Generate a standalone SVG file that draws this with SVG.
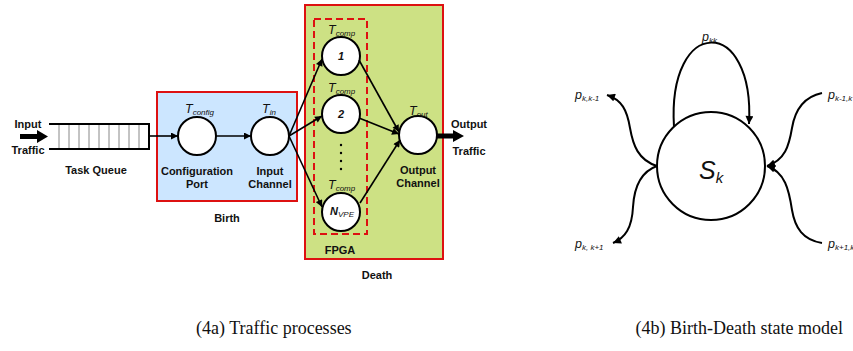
<svg xmlns="http://www.w3.org/2000/svg" width="853" height="351" viewBox="0 0 853 351">
<style>
.lbl{font-family:"Liberation Sans",Arial,sans-serif;font-size:11px;font-weight:bold;fill:#111;text-anchor:middle}
.var{font-family:"Liberation Sans",Arial,sans-serif;font-style:italic;font-size:12.5px;fill:#111}
.num{font-family:"Liberation Sans",Arial,sans-serif;font-style:italic;font-weight:bold;font-size:11px;fill:#111}
.sub{font-size:8px;font-weight:normal}
.pl{font-family:"Liberation Sans",Arial,sans-serif;font-style:italic;font-size:12.5px;fill:#111}
.big{font-family:"Liberation Sans",Arial,sans-serif;font-style:italic;font-size:25px;fill:#111}
.bigsub{font-size:15px}
.cap{font-family:"Liberation Serif","Times New Roman",serif;font-size:18px;fill:#111}
.node{fill:#fff;stroke:#000;stroke-width:2}
.edge{fill:none;stroke:#000;stroke-width:1.6}
.edge2{fill:none;stroke:#000;stroke-width:2}
.cell{stroke:#888;stroke-width:1}
</style>
<defs>
<marker id="ah" viewBox="0 0 10 10" refX="10" refY="5" markerWidth="8" markerHeight="7" markerUnits="userSpaceOnUse" orient="auto">
<path d="M0,0 L10,5 L0,10 z" fill="#000"/>
</marker>
<marker id="ah2" viewBox="0 0 10 10" refX="10" refY="5" markerWidth="9" markerHeight="8" markerUnits="userSpaceOnUse" orient="auto">
<path d="M0,0 L10,5 L0,10 z" fill="#000"/>
</marker>
</defs>
<rect width="853" height="351" fill="#fff"/>

<g id="birth-box">
<rect x="157" y="92" width="140" height="109" fill="#cce6ff" stroke="#dd1111" stroke-width="2"/>
<text class="lbl" x="227" y="222">Birth</text>
</g>
<g id="death-box">
<rect x="305" y="5" width="138" height="254" fill="#cde184" stroke="#dd1111" stroke-width="2"/>
<text class="lbl" x="377" y="279">Death</text>
</g>
<g id="fpga">
<rect x="314" y="19" width="53" height="215" fill="none" stroke="#dd1111" stroke-width="2" stroke-dasharray="7,4"/>
<text class="lbl" x="340" y="254">FPGA</text>
</g>

<g id="task-queue">
<line x1="49" y1="124" x2="150" y2="124" stroke="#000" stroke-width="2"/>
<line x1="49" y1="149" x2="150" y2="149" stroke="#000" stroke-width="2"/>
<line x1="149" y1="123" x2="149" y2="150" stroke="#000" stroke-width="2"/>
<g class="cell">
<line x1="59" y1="125" x2="59" y2="148"/><line x1="69" y1="125" x2="69" y2="148"/><line x1="79" y1="125" x2="79" y2="148"/>
<line x1="89" y1="125" x2="89" y2="148"/><line x1="99" y1="125" x2="99" y2="148"/><line x1="109" y1="125" x2="109" y2="148"/>
<line x1="119" y1="125" x2="119" y2="148"/><line x1="129" y1="125" x2="129" y2="148"/><line x1="139" y1="125" x2="139" y2="148"/>
</g>
<text class="lbl" x="96" y="174">Task Queue</text>
</g>

<g id="input-traffic">
<polygon points="20,134 37,134 37,130 48,136.5 37,143 37,139 20,139" fill="#000"/>
<text class="lbl" x="28" y="128">Input</text>
<text class="lbl" x="28" y="154">Traffic</text>
</g>

<g id="config-port">
<circle class="node" cx="197" cy="136" r="19"/>
<text class="var" x="185" y="113">T<tspan class="sub" dy="2">config</tspan></text>
<text class="lbl" x="197" y="175">Configuration</text>
<text class="lbl" x="197" y="188">Port</text>
</g>
<g id="input-channel">
<circle class="node" cx="270" cy="136" r="19"/>
<text class="var" x="262" y="113">T<tspan class="sub" dy="2">in</tspan></text>
<text class="lbl" x="270" y="175">Input</text>
<text class="lbl" x="270" y="188">Channel</text>
</g>

<g id="comp-1">
<circle class="node" cx="341" cy="56" r="19"/>
<text class="var" x="328" y="34">T<tspan class="sub" dy="2">comp</tspan></text>
<text class="num" x="341" y="60" text-anchor="middle">1</text>
</g>
<g id="comp-2">
<circle class="node" cx="341" cy="114" r="19"/>
<text class="var" x="328" y="92">T<tspan class="sub" dy="2">comp</tspan></text>
<text class="num" x="341" y="118" text-anchor="middle">2</text>
</g>
<g id="dots" fill="#000">
<circle cx="341" cy="145" r="1.2"/><circle cx="341" cy="153" r="1.2"/><circle cx="341" cy="161" r="1.2"/><circle cx="341" cy="169" r="1.2"/>
</g>
<g id="comp-n">
<circle class="node" cx="341" cy="212" r="19"/>
<text class="var" x="328" y="189">T<tspan class="sub" dy="2">comp</tspan></text>
<text class="num" x="330" y="215">N<tspan class="sub" dy="2">VPE</tspan></text>
</g>

<g id="output-channel">
<circle class="node" cx="418" cy="135" r="19"/>
<text class="var" x="409" y="115">T<tspan class="sub" dy="2">out</tspan></text>
<text class="lbl" x="418" y="174">Output</text>
<text class="lbl" x="418" y="187">Channel</text>
</g>

<g id="output-traffic">
<polygon points="437,133.5 453,133.5 453,130 464,136 453,142 453,138.5 437,138.5" fill="#000"/>
<text class="lbl" x="469" y="128">Output</text>
<text class="lbl" x="469" y="155">Traffic</text>
</g>

<g id="connectors-a" class="edge">
<line x1="150" y1="136" x2="178" y2="136" marker-end="url(#ah)"/>
<line x1="216" y1="136" x2="251" y2="136" marker-end="url(#ah)"/>
<line x1="289" y1="136" x2="322" y2="59" marker-end="url(#ah)"/>
<line x1="289" y1="136" x2="322" y2="116" marker-end="url(#ah)"/>
<line x1="289" y1="136" x2="322" y2="207" marker-end="url(#ah)"/>
<line x1="359" y1="60" x2="399" y2="132" marker-end="url(#ah)"/>
<line x1="359" y1="118" x2="399" y2="134" marker-end="url(#ah)"/>
<line x1="360" y1="203" x2="400" y2="140" marker-end="url(#ah)"/>
</g>

<g id="state-sk">
<circle cx="711" cy="166" r="54" fill="#fff" stroke="#000" stroke-width="2"/>
<text class="big" x="699" y="179">S<tspan class="bigsub" dy="4">k</tspan></text>
</g>
<g id="labels-b">
<text class="pl" x="702" y="41">p<tspan class="sub" dy="2">kk</tspan></text>
<text class="pl" x="575" y="99">p<tspan class="sub" dy="2">k,k-1</tspan></text>
<text class="pl" x="828" y="99">p<tspan class="sub" dy="2">k-1,k</tspan></text>
<text class="pl" x="575" y="248">p<tspan class="sub" dy="2">k, k+1</tspan></text>
<text class="pl" x="828" y="248">p<tspan class="sub" dy="2">k+1,k</tspan></text>
</g>
<g id="connectors-b" class="edge2">
<path d="M674,127 C667,15 755,15 749,124" marker-end="url(#ah2)"/>
<path d="M657,166 C638,160 633,145 630,128 C627,110 622,100 607,95" marker-end="url(#ah2)"/>
<path d="M657,166 C640,172 634,190 633,207 C632,228 625,238 613,243" marker-end="url(#ah2)"/>
<path d="M822,93 C803,97 795,110 792,128 C789,146 785,160 767,166" marker-end="url(#ah2)"/>
<path d="M822,243 C803,240 795,228 792,210 C789,190 785,172 767,166" marker-end="url(#ah2)"/>
</g>

<g id="captions">
<text class="cap" x="196" y="334">(4a) Traffic processes</text>
<text class="cap" x="843" y="334" text-anchor="end">(4b) Birth-Death state model</text>
</g>
</svg>
